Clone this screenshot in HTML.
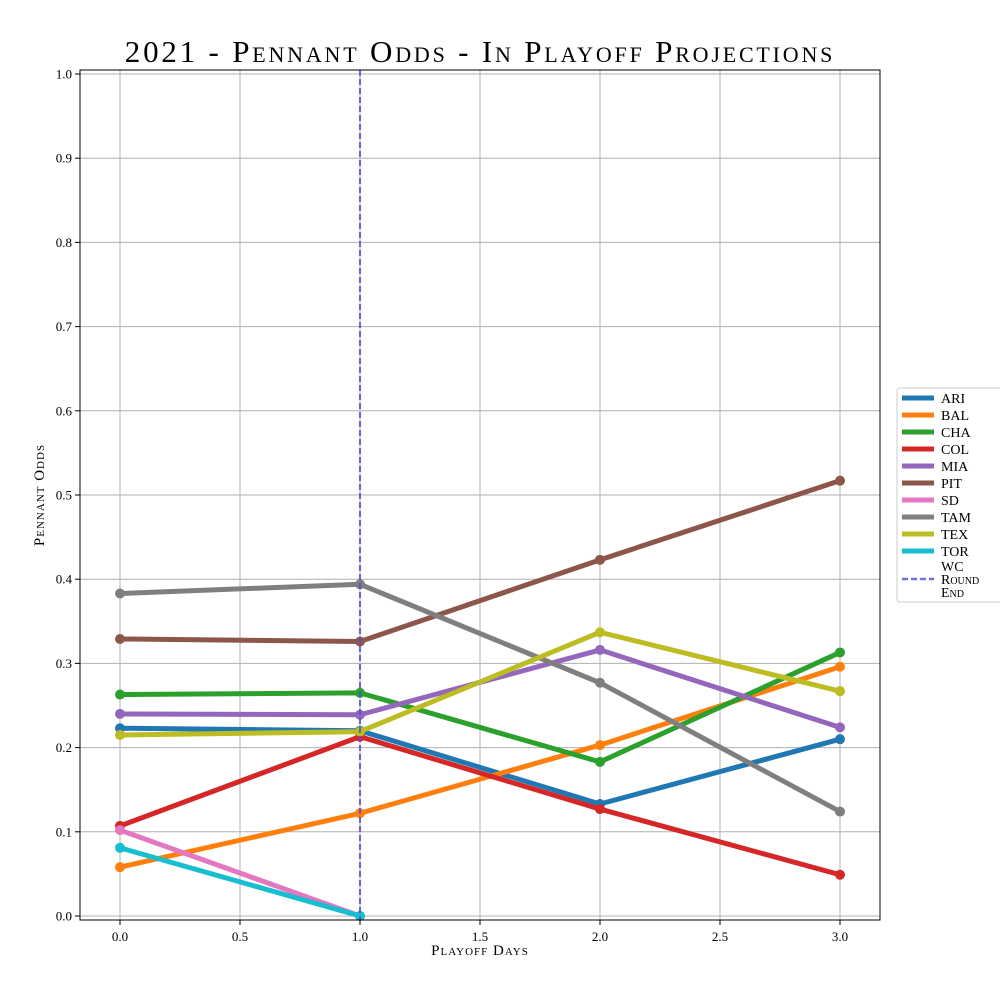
<!DOCTYPE html>
<html><head><meta charset="utf-8"><style>
body{margin:0;background:#fff}
svg{font-family:"Liberation Serif",serif}
.sc{font-variant:small-caps}
</style></head><body>
<svg width="1000" height="1000" xmlns="http://www.w3.org/2000/svg">
<rect width="1000" height="1000" fill="#fff"/>
<g id="grid"></g>
<g id="series"></g>
<g id="axes"></g>
<text x="480" y="62" text-anchor="middle" font-size="31" letter-spacing="2.8" class="sc">2021 - Pennant Odds - In Playoff Projections</text>
<text x="480" y="955" text-anchor="middle" font-size="15" letter-spacing="1" class="sc">Playoff Days</text>
<text transform="translate(44,495) rotate(-90)" text-anchor="middle" font-size="15" letter-spacing="1" class="sc">Pennant Odds</text>
<g id="legend"></g>
</svg>
<script>
const days=[0,1,2,3];
const teams=["ARI","BAL","CHA","COL","MIA","PIT","SD","TAM","TEX","TOR"];
const colors=["#1f77b4","#ff7f0e","#2ca02c","#d62728","#9467bd","#8c564b","#e377c2","#7f7f7f","#bcbd22","#17becf"];
const ARI=[0.223,0.220,0.133,0.210];
const BAL=[0.058,0.122,0.203,0.296];
const CHA=[0.263,0.265,0.183,0.313];
const COL=[0.107,0.213,0.127,0.049];
const MIA=[0.240,0.239,0.316,0.224];
const PIT=[0.329,0.326,0.423,0.517];
const SD=[0.102,0.0];
const TAM=[0.383,0.394,0.277,0.124];
const TEX=[0.215,0.219,0.337,0.267];
const TOR=[0.081,0.0];
const values=[ARI,BAL,CHA,COL,MIA,PIT,SD,TAM,TEX,TOR];
const xTicks=[0,0.5,1,1.5,2,2.5,3];
const yTicks=[0,0.1,0.2,0.3,0.4,0.5,0.6,0.7,0.8,0.9,1.0];
const wcEnd=1;
const NS="http://www.w3.org/2000/svg";
const X=v=>120+v*240, Y=v=>916-v*842;
function mk(p,t,a){const e=document.createElementNS(NS,t);for(const k in a)e.setAttribute(k,a[k]);p.appendChild(e);return e;}
const grid=document.getElementById('grid'),axes=document.getElementById('axes'),ser=document.getElementById('series'),leg=document.getElementById('legend');
xTicks.forEach(t=>{
 const l=mk(grid,'line',{x1:X(t),x2:X(t),y1:70,y2:920,stroke:'#b0b0b0','stroke-width':1});
 
 mk(axes,'line',{x1:X(t),x2:X(t),y1:920,y2:925,stroke:'#000'});
 const tx=mk(axes,'text',{x:X(t),y:941,'text-anchor':'middle','font-size':13});tx.textContent=t.toFixed(1);
 
});
yTicks.forEach(t=>{
 const l=mk(grid,'line',{x1:80,x2:880,y1:Y(t),y2:Y(t),stroke:'#b0b0b0','stroke-width':1});
 
 mk(axes,'line',{x1:75,x2:80,y1:Y(t),y2:Y(t),stroke:'#000'});
 const tx=mk(axes,'text',{x:72,y:Y(t)+4.5,'text-anchor':'end','font-size':13});tx.textContent=t.toFixed(1);
 
});
const fr=mk(axes,'rect',{x:80,y:70,width:800,height:850,fill:'none',stroke:'#000','stroke-width':1});

values.forEach((vals,i)=>{
 const g=mk(ser,'g',{});
 
 mk(g,'polyline',{points:vals.map((v,j)=>X(days[j])+','+Y(v)).join(' '),fill:'none',stroke:colors[i],'stroke-width':5,'stroke-linejoin':'round'});
 vals.forEach((v,j)=>{const c=mk(g,'circle',{cx:X(days[j]),cy:Y(v),r:5,fill:colors[i]});
  });
});
const wl=mk(ser,'line',{x1:X(wcEnd),x2:X(wcEnd),y1:70,y2:920,stroke:'#5050e0','stroke-width':2,'stroke-dasharray':'6,3',opacity:0.85});

const lb=mk(leg,'rect',{x:897,y:388,width:110,height:214,rx:3,fill:'#fff',stroke:'#ccc'});

teams.forEach((t,i)=>{
 const y=398+i*17;
 const g=mk(leg,'g',{});
 mk(g,'line',{x1:902,x2:934,y1:y,y2:y,stroke:colors[i],'stroke-width':5});
 const tx=mk(g,'text',{x:941,y:y+5,'font-size':14,class:'sc'});tx.textContent=t;
});
const g=mk(leg,'g',{});
mk(g,'line',{x1:902,x2:934,y1:579,y2:579,stroke:'#7070f0','stroke-width':2.5,'stroke-dasharray':'6,3'});
[["WC",571],["Round",584],["End",597]].forEach(([s,y])=>{const tx=mk(g,'text',{x:941,y:y,'font-size':14,class:'sc'});tx.textContent=s;});
</script>
</body></html>
